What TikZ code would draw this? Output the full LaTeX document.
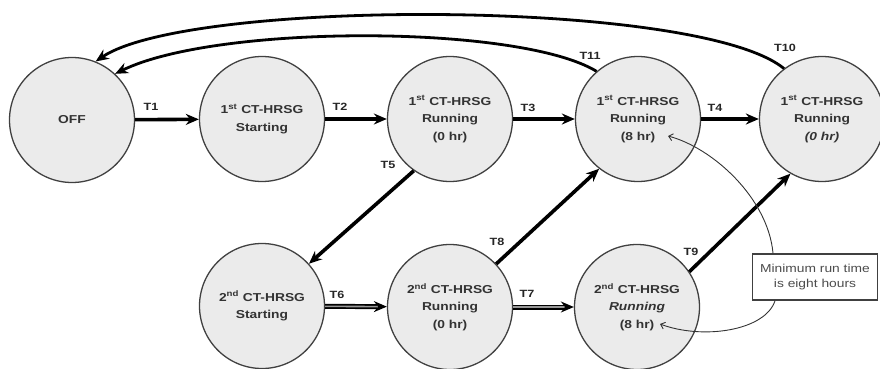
\documentclass[tikz,border=0pt]{standalone}
\usepackage{fontspec}
\setmainfont{Liberation Sans}[FakeStretch=1.2]
\usetikzlibrary{arrows.meta}

\tikzset{
  state/.style={circle, draw=black!75, line width=1.3pt, fill=black!8,
    minimum size=125pt, inner sep=0pt, align=center,
    font=\fontsize{11.5}{17.5}\selectfont\bfseries, text=black!80},
  tlabel/.style={font=\fontsize{10.5}{10.5}\selectfont\bfseries, text=black!85, inner sep=0pt},
  note/.style={draw=black!75, line width=1.6pt, fill=white, minimum width=125pt,
    minimum height=46pt, align=center, font=\fontsize{11.5}{15}\selectfont, text=black!70},
  bigtip/.style={-{Stealth[length=13pt,width=11pt,color=black]}},
  main/.style={bigtip, line width=3.6pt, draw=black},
  low/.style={bigtip, line width=1.6pt, draw=black!40,
    preaction={draw=black, line width=5pt, -, shorten >=10pt}},
  back/.style={-{Stealth[length=13pt,width=11pt]}, line width=2.8pt, draw=black},
  remark/.style={-{Straight Barb[length=4pt,width=7pt]}, line width=0.9pt, draw=black!80}
}

\begin{document}
\begin{tikzpicture}[x=1pt, y=-1pt]
  \useasboundingbox (0,0) rectangle (880,369);

  % states, first unit
  \node[state] (off) at (72,120) {OFF};
  \node[state] (s1)  at (262,119) {1\textsuperscript{st} CT-HRSG\\Starting};
  \node[state] (r10) at (450,119) {1\textsuperscript{st} CT-HRSG\\Running\\(0 hr)};
  \node[state] (r18) at (638,119) {1\textsuperscript{st} CT-HRSG\\Running\\(8 hr)};
  \node[state] (r1x) at (822,119) {1\textsuperscript{st} CT-HRSG\\Running\\\textit{(0 hr)}};

  % states, second unit
  \node[state] (s2)  at (262,306) {2\textsuperscript{nd} CT-HRSG\\Starting};
  \node[state] (r20) at (450,307) {2\textsuperscript{nd} CT-HRSG\\Running\\(0 hr)};
  \node[state] (r28) at (637,307) {2\textsuperscript{nd} CT-HRSG\\\textit{Running}\\(8 hr)};

  % note on minimum run time
  \node[note] (rule) at (815,277) {Minimum run time\\is eight hours};
  \coordinate (h8a) at (668,136);
  \coordinate (h8b) at (660,324);

  % transitions
  \draw[main] (off) -- (s1);
  \draw[main] (s1) -- (r10);
  \draw[main] (r10) -- (r18);
  \draw[main] (r18) -- (r1x);
  \draw[low] (s2) -- (r20);
  \draw[low] (r20) -- (r28);
  \draw[main] (r10.235) -- (s2.42);
  \draw[main] (r20.43) -- (r18.232);
  \draw[main] (r28.34) -- (r1x.240);
  \draw[back] (r1x.127) .. controls +(-85,-70) and +(93,-63) .. (off.68);
  \draw[back] (r18.131) .. controls +(-77,-47) and +(102,-50) .. (off.47);

  \draw[remark] ([xshift=-42pt]rule.north) .. controls +(-5,-55) and +(45,12) .. (h8a);
  \draw[remark] ([xshift=-40pt]rule.south) .. controls +(-10,30) and +(43,16) .. (h8b);

  % transition labels
  \node[tlabel] (t1)  at (151,107) {T1};
  \node[tlabel] (t2)  at (340,107) {T2};
  \node[tlabel] (t3)  at (528,108) {T3};
  \node[tlabel] (t4)  at (715,108) {T4};
  \node[tlabel] (t5)  at (388,165) {T5};
  \node[tlabel] (t6)  at (337,295) {T6};
  \node[tlabel] (t7)  at (527,294) {T7};
  \node[tlabel] (t8)  at (497,242) {T8};
  \node[tlabel] (t9)  at (691,252) {T9};
  \node[tlabel] (t10) at (785,48) {T10};
  \node[tlabel] (t11) at (590,56) {T11};
\end{tikzpicture}
\end{document}
